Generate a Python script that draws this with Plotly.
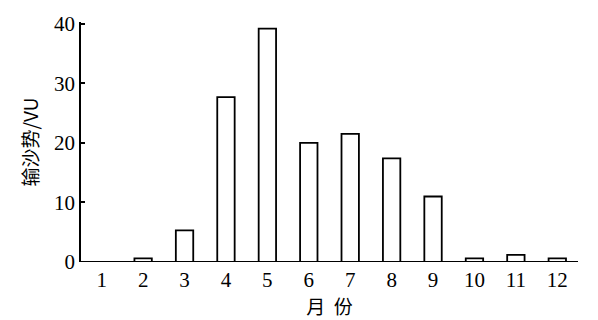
import plotly.graph_objects as go

# Monthly sand drift potential
months = [1, 2, 3, 4, 5, 6, 7, 8, 9, 10, 11, 12]
month_labels = ["1", "2", "3", "4", "5", "6", "7", "8", "9", "10", "11", "12"]
drift_potential = [0.0, 0.6, 5.3, 27.7, 39.2, 20.0, 21.5, 17.4, 11.0, 0.6, 1.2, 0.6]
y_ticks = [0, 10, 20, 30, 40]

tick_font = dict(family="Liberation Serif", size=21, color="black")
cjk_font = dict(family="Noto Sans CJK SC", size=19, color="black")

fig = go.Figure(
    go.Bar(
        x=months,
        y=drift_potential,
        width=0.42,
        marker=dict(color="white", line=dict(color="black", width=1.8)),
    )
)

fig.update_layout(
    width=598,
    height=320,
    margin=dict(l=81, r=20, t=22, b=58),
    paper_bgcolor="white",
    plot_bgcolor="white",
    showlegend=False,
    font=dict(family="Liberation Serif", size=18, color="black"),
)

fig.update_xaxes(
    range=[0.5, 12.5],
    tickvals=months,
    ticktext=month_labels,
    ticks="",
    ticklabelstandoff=3,
    showgrid=False,
    zeroline=False,
    showline=False,
    tickfont=tick_font,
    title=dict(text="月  份", font=cjk_font, standoff=4),
)

fig.update_yaxes(
    range=[0, 40.3],
    tickvals=y_ticks,
    ticks="inside",
    ticklen=4,
    tickwidth=1.6,
    tickcolor="black",
    showgrid=False,
    zeroline=False,
    showline=True,
    linecolor="black",
    linewidth=1.8,
    tickfont=tick_font,
    title=dict(text="输沙势/VU", font=cjk_font, standoff=10),
)

# x axis baseline along y = 0
fig.add_shape(type="line", xref="paper", yref="y", x0=0, x1=1, y0=0, y1=0,
              line=dict(color="black", width=1.8))

fig.write_html("out.html")
